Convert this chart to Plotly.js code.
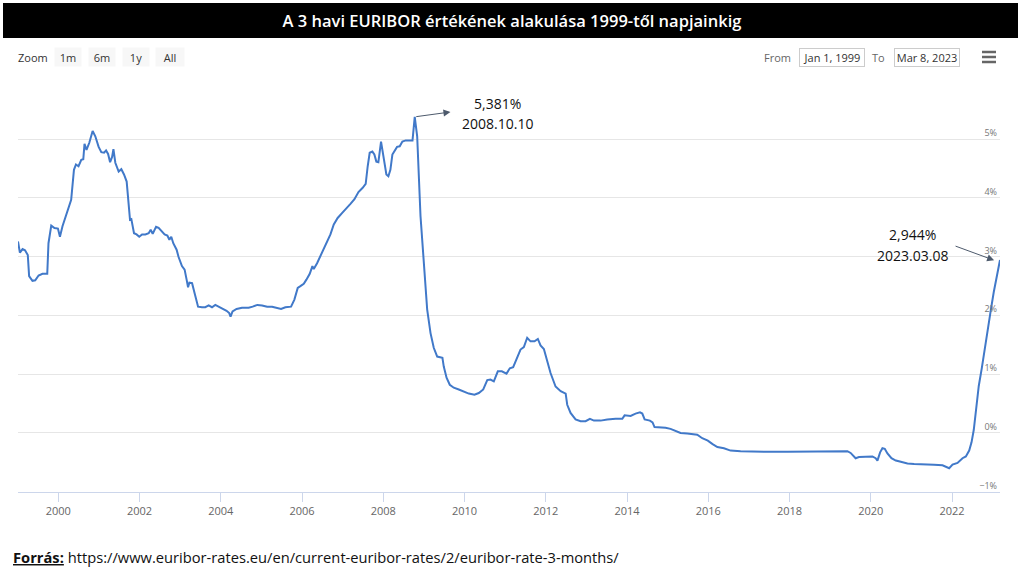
<!DOCTYPE html>
<html>
<head>
<meta charset="utf-8">
<script src="https://cdn.plot.ly/plotly-3.0.1.min.js"></script>
<style>
html,body{margin:0;padding:0;background:#ffffff;}
#chart{width:1024px;height:577px;}
</style>
</head>
<body>
<div id="chart"></div>
<script>
// ---- data ----
const dates = [
'1999-01-04','1999-01-21','1999-02-14','1999-03-08','1999-04-02','1999-04-14','1999-05-14','1999-06-08','1999-07-08','1999-08-12',
'1999-09-24','1999-10-05','1999-10-30','1999-11-28','1999-12-29','2000-01-16','2000-02-08','2000-03-10','2000-04-02','2000-04-26',
'2000-05-21','2000-06-08','2000-07-01','2000-07-26','2000-08-13','2000-08-24','2000-09-11','2000-10-06','2000-11-05','2000-11-29',
'2000-12-29','2001-01-22','2001-02-16','2001-03-06','2001-03-24','2001-04-11','2001-04-29','2001-05-11','2001-05-28','2001-06-27',
'2001-07-21','2001-08-14','2001-09-07','2001-09-25','2001-10-07','2001-10-19','2001-11-12','2001-12-05','2001-12-29','2002-01-23',
'2002-02-22','2002-03-24','2002-04-11','2002-04-29','2002-05-29','2002-06-21','2002-07-22','2002-08-14','2002-09-08','2002-09-26',
'2002-10-13','2002-10-31','2002-11-30','2002-12-17','2003-01-17','2003-02-10','2003-02-28','2003-03-13','2003-03-25','2003-04-18',
'2003-05-11','2003-06-11','2003-07-16','2003-08-15','2003-09-14','2003-10-14','2003-11-13','2003-12-13','2004-01-12','2004-02-22',
'2004-03-17','2004-03-29','2004-04-16','2004-05-22','2004-07-10','2004-09-08','2004-10-14','2004-11-25','2005-01-07','2005-02-21',
'2005-04-07','2005-05-21','2005-06-26','2005-08-04','2005-09-24','2005-10-24','2005-11-23','2005-12-17','2006-01-16','2006-02-09',
'2006-03-11','2006-04-04','2006-04-16','2006-05-16','2006-06-15','2006-07-21','2006-08-20','2006-09-13','2006-10-13','2006-11-17',
'2006-12-30','2007-02-10','2007-03-12','2007-04-17','2007-05-23','2007-06-28','2007-07-27','2007-08-14','2007-09-01','2007-09-25',
'2007-10-13','2007-10-31','2007-11-18','2007-12-12','2007-12-24','2008-01-11','2008-01-29','2008-02-16','2008-03-05','2008-03-23',
'2008-04-16','2008-05-04','2008-05-28','2008-06-21','2008-07-21','2008-08-21','2008-09-20','2008-10-10','2008-11-01','2008-12-01',
'2008-12-31','2009-01-30','2009-03-01','2009-03-30','2009-04-30','2009-05-29','2009-06-16','2009-06-28','2009-07-23','2009-08-21',
'2009-09-26','2009-11-10','2009-12-25','2010-02-08','2010-03-31','2010-05-09','2010-06-18','2010-07-24','2010-08-22','2010-09-21',
'2010-10-27','2010-12-02','2011-01-13','2011-02-12','2011-03-14','2011-04-19','2011-05-19','2011-06-18','2011-07-18','2011-08-17',
'2011-09-22','2011-10-22','2011-11-15','2011-12-15','2012-01-14','2012-02-13','2012-03-29','2012-05-14','2012-06-28','2012-07-12',
'2012-08-11','2012-09-25','2012-11-09','2012-12-24','2013-02-01','2013-03-09','2013-05-08','2013-07-07','2013-09-20','2013-11-19',
'2013-12-10','2014-02-02','2014-03-18','2014-04-27','2014-05-18','2014-06-08','2014-07-25','2014-08-18','2014-09-05','2014-10-29',
'2014-12-13','2015-01-27','2015-03-13','2015-04-27','2015-06-26','2015-09-24','2015-11-08','2015-12-28','2016-02-09','2016-03-23',
'2016-05-21','2016-07-20','2016-10-18','2017-02-15','2017-06-16','2017-12-13','2018-04-10','2018-10-07','2019-02-04','2019-06-05',
'2019-07-04','2019-08-18','2019-09-17','2019-11-16','2020-01-16','2020-02-14','2020-03-01','2020-03-25','2020-04-15','2020-05-06',
'2020-05-30','2020-07-05','2020-08-13','2020-09-27','2020-11-26','2021-01-25','2021-04-25','2021-07-23','2021-10-07','2021-11-21',
'2021-12-06','2022-01-05','2022-02-19','2022-04-05','2022-05-05','2022-06-04','2022-06-25','2022-07-15','2022-08-02','2022-08-29',
'2022-09-25','2022-10-22','2022-11-18','2022-12-16','2023-01-11','2023-02-07','2023-02-25','2023-03-08'
];
const rates = [
3.26,3.07,3.13,3.11,3.03,2.67,2.59,2.60,2.68,2.71,
2.71,3.23,3.53,3.49,3.48,3.34,3.52,3.69,3.81,3.97,
4.48,4.57,4.54,4.65,4.66,4.92,4.82,4.94,5.14,5.05,
4.87,4.78,4.77,4.81,4.75,4.61,4.70,4.83,4.60,4.45,
4.49,4.40,4.28,3.83,3.63,3.64,3.40,3.38,3.34,3.38,
3.38,3.40,3.46,3.39,3.51,3.49,3.43,3.38,3.36,3.29,
3.34,3.23,3.12,3.00,2.84,2.78,2.61,2.48,2.56,2.55,
2.38,2.15,2.14,2.14,2.17,2.14,2.18,2.15,2.11,2.08,
2.04,1.98,2.07,2.11,2.13,2.13,2.15,2.18,2.17,2.15,
2.15,2.13,2.11,2.14,2.15,2.27,2.47,2.50,2.54,2.61,
2.71,2.84,2.79,2.89,3.01,3.18,3.28,3.38,3.55,3.66,
3.75,3.83,3.90,3.98,4.10,4.17,4.24,4.54,4.77,4.79,
4.74,4.62,4.61,4.96,4.82,4.54,4.40,4.37,4.48,4.74,
4.82,4.87,4.88,4.96,4.98,4.98,4.98,5.381,5.05,3.69,
2.95,2.10,1.70,1.45,1.30,1.28,1.28,1.13,0.94,0.82,
0.77,0.74,0.71,0.67,0.65,0.68,0.74,0.90,0.91,0.88,
1.05,1.05,1.01,1.10,1.12,1.29,1.42,1.46,1.62,1.56,
1.56,1.60,1.49,1.43,1.22,1.02,0.79,0.71,0.67,0.48,
0.34,0.23,0.20,0.20,0.24,0.21,0.21,0.23,0.24,0.24,
0.30,0.29,0.33,0.35,0.33,0.23,0.21,0.18,0.10,0.10,
0.09,0.07,0.03,0.00,-0.01,-0.03,-0.09,-0.13,-0.19,-0.24,
-0.26,-0.30,-0.31,-0.32,-0.32,-0.32,-0.32,-0.31,-0.31,-0.31,
-0.34,-0.43,-0.41,-0.40,-0.40,-0.43,-0.47,-0.33,-0.26,-0.27,
-0.35,-0.43,-0.47,-0.49,-0.52,-0.53,-0.53,-0.54,-0.55,-0.58,
-0.60,-0.54,-0.51,-0.43,-0.40,-0.30,-0.16,0.05,0.35,0.80,
1.10,1.45,1.80,2.10,2.40,2.65,2.80,2.944
];
const yearTicks = ['2000-01-01','2002-01-01','2004-01-01','2006-01-01','2008-01-01','2010-01-01',
                   '2012-01-01','2014-01-01','2016-01-01','2018-01-01','2020-01-01','2022-01-01'];
const yearLabels = ['2000','2002','2004','2006','2008','2010','2012','2014','2016','2018','2020','2022'];
const rateTicks = [-1,0,1,2,3,4,5,6];
const rateLabels = ['\u22121%','0%','1%','2%','3%','4%','5%',''];
const titleText = 'A 3 havi EURIBOR értékének alakulása 1999-től napjainkig';
const peakText = ['5,381%','2008.10.10'];
const lastText = ['2,944%','2023.03.08'];
const zoomButtons = ['1m','6m','1y','All'];
const fromDate = 'Jan 1, 1999';
const toDate = 'Mar 8, 2023';
const sourceUrl = 'https://www.euribor-rates.eu/en/current-euribor-rates/2/euribor-rate-3-months/';

// ---- layout helpers (pixel -> paper) ----
const W = 1024, H = 577;
const px = v => v / W;
const py = v => 1 - v / H;
const FONT = 'Open Sans, DejaVu Sans, sans-serif';

function label(x, y, text, size, color, extra) {
  return Object.assign({xref:'paper', yref:'paper', x:px(x), y:py(y), text:text, showarrow:false,
    xanchor:'center', yanchor:'middle', font:{family:FONT, size:size, color:color}}, extra || {});
}

const peakIdx = rates.indexOf(Math.max(...rates));

const annotations = [];
// zoom row
annotations.push(label(33, 57, 'Zoom', 11, '#333333'));
const btnCenters = [68, 101.5, 135.5, 170];
const btnWidths = [24, 24, 24, 26];
zoomButtons.forEach((b, i) => annotations.push(label(btnCenters[i], 57, b, 11, '#333333',
  {bgcolor:'#f7f7f7', width:btnWidths[i], height:16, borderpad:1})));
annotations.push(label(777, 57, 'From', 11, '#666666'));
annotations.push(label(831.5, 57, fromDate, 11, '#333333',
  {bgcolor:'#ffffff', bordercolor:'#cccccc', borderwidth:1, width:64, height:17, borderpad:0}));
annotations.push(label(878.5, 57, 'To', 11, '#666666'));
annotations.push(label(926.5, 57, toDate, 11, '#333333',
  {bgcolor:'#ffffff', bordercolor:'#cccccc', borderwidth:1, width:64, height:17, borderpad:0}));
// value labels
annotations.push(label(497, 103, peakText[0], 14, '#111111'));
annotations.push(label(497, 124, peakText[1], 14, '#111111'));
annotations.push(label(912, 234, lastText[0], 14, '#111111'));
annotations.push(label(912, 255, lastText[1], 14, '#111111'));
// arrows
annotations.push({xref:'x', yref:'y', axref:'x', ayref:'y',
  x:'2009-08-27', y:5.464, ax:dates[peakIdx], ay:rates[peakIdx], text:'',
  showarrow:true, arrowhead:2, arrowsize:1.4, arrowwidth:1, arrowcolor:'#4d5a6c', standoff:0, startstandoff:0});
annotations.push({xref:'x', yref:'y', axref:'x', ayref:'y',
  x:'2023-01-14', y:2.94, ax:'2022-01-19', ay:3.19, text:'',
  showarrow:true, arrowhead:2, arrowsize:1.4, arrowwidth:1, arrowcolor:'#4d5a6c', standoff:0, startstandoff:0});
// source
annotations.push({xref:'paper', yref:'paper', x:px(11), y:py(557), xanchor:'left', yanchor:'middle', showarrow:false,
  text:'<b><u>Forrás:</u></b> ' + sourceUrl, font:{family:FONT, size:14.7, color:'#111111'}});

const shapes = [
  {type:'rect', xref:'paper', yref:'paper', x0:px(3), x1:px(1018), y0:py(38), y1:py(3),
   fillcolor:'#000000', line:{width:0}, layer:'below'},
  // menu icon
  {type:'line', xref:'paper', yref:'paper', x0:px(982), x1:px(996), y0:py(52), y1:py(52), line:{color:'#666666', width:2.5}},
  {type:'line', xref:'paper', yref:'paper', x0:px(982), x1:px(996), y0:py(57), y1:py(57), line:{color:'#666666', width:2.5}},
  {type:'line', xref:'paper', yref:'paper', x0:px(982), x1:px(996), y0:py(62), y1:py(62), line:{color:'#666666', width:2.5}}
];

const trace = {
  type:'scatter', mode:'lines', x:dates, y:rates,
  line:{color:'#4179c9', width:2}, hoverinfo:'x+y', showlegend:false
};

const layout = {
  width:W, height:H,
  margin:{l:0, r:0, t:0, b:0},
  paper_bgcolor:'#ffffff', plot_bgcolor:'#ffffff',
  title:{text:titleText, font:{family:FONT, size:16.5, weight:600, color:'#ffffff'},
         x:0.5, xanchor:'center', xref:'paper', y:py(21), yanchor:'middle', yref:'paper'},
  xaxis:{type:'date', range:['1999-01-04','2023-03-08'], domain:[px(18), px(1000)],
    tickvals:yearTicks, ticktext:yearLabels, ticks:'outside', ticklen:9, tickwidth:1, tickcolor:'#ccd6eb',
    showline:true, linecolor:'#ccd6eb', linewidth:1, showgrid:false, zeroline:false,
    tickfont:{family:FONT, size:11, color:'#666666'}, fixedrange:true},
  yaxis:{range:[-1, 6], domain:[py(491.7), py(80.5)], side:'right',
    tickvals:rateTicks, ticktext:rateLabels, ticklabelposition:'inside top', ticks:'',
    showgrid:true, gridcolor:'#e6e6e6', gridwidth:1, zeroline:false, showline:false,
    tickfont:{family:FONT, size:9, color:'#777777'}, fixedrange:true},
  annotations:annotations,
  shapes:shapes,
  showlegend:false
};

Plotly.newPlot('chart', [trace], layout, {displayModeBar:false, staticPlot:true});
</script>
</body>
</html>
